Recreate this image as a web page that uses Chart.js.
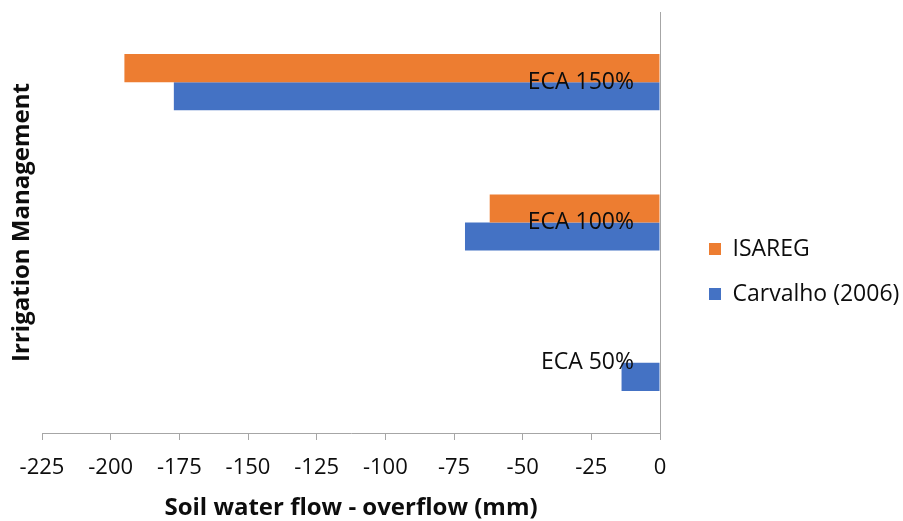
<!DOCTYPE html>
<html>
<head>
<meta charset="utf-8">
<script src="https://cdn.jsdelivr.net/npm/chart.js@4/dist/chart.umd.min.js"></script>
<style>
  html, body { margin: 0; padding: 0; background: #ffffff; }
  #wrap { width: 903px; height: 521px; }
</style>
</head>
<body>
<div id="wrap"><canvas id="chart"></canvas></div>
<script>
const categories = ["ECA 150%", "ECA 100%", "ECA 50%"];
const isaregValues = [-195, -62, 0];
const carvalhoValues = [-177, -71, -14];
const xTicks = { min: -225, max: 0, step: 25 };
const xTitle = "Soil water flow - overflow (mm)";
const yTitle = "Irrigation Management";

const FONT = "'Open Sans', 'Noto Sans', sans-serif";
const TEXT = "#0d0d0d";
const AXIS = "#a6a6a6";

// y title sits on the left while the category axis sits on the right
const yTitlePlugin = {
  id: "yTitlePlugin",
  afterDraw: function (chart) {
    let area = chart.chartArea;
    let c = chart.ctx;
    c.save();
    c.translate(22, (area.top + area.bottom) / 2);
    c.rotate(-Math.PI / 2);
    c.font = "bold 24px " + FONT;
    c.fillStyle = TEXT;
    c.textAlign = "center";
    c.textBaseline = "middle";
    c.fillText(yTitle, 0, 0);
    c.restore();
  },
};

let ctx = document.getElementById("chart").getContext("2d");
let myChart = new Chart(ctx, {
  type: "bar",
  data: {
    labels: categories,
    datasets: [
      {
        label: "ISAREG",
        data: isaregValues,
        backgroundColor: "#ed7d31",
      },
      {
        label: "Carvalho (2006)",
        data: carvalhoValues,
        backgroundColor: "#4472c4",
      },
    ],
  },
  options: {
    indexAxis: "y",
    responsive: true,
    maintainAspectRatio: false,
    animation: false,
    layout: { padding: { top: 12, right: 0, bottom: 0, left: 42 } },
    datasets: { bar: { barPercentage: 1, categoryPercentage: 0.4 } },
    plugins: {
      tooltip: { enabled: false },
      legend: {
        position: "right",
        align: "center",
        maxWidth: 216,
        // empty title only nudges the items down a little
        title: {
          display: true,
          text: " ",
          padding: 0,
          font: { size: 10, lineHeight: 1 },
        },
        labels: {
          color: TEXT,
          font: { family: FONT, size: 23 },
          boxWidth: 12,
          boxHeight: 12,
          padding: 22,
        },
      },
    },
    scales: {
      x: {
        min: xTicks.min,
        max: xTicks.max,
        ticks: {
          stepSize: xTicks.step,
          color: TEXT,
          font: { family: FONT, size: 22, lineHeight: 1 },
          padding: 17,
          maxRotation: 0,
        },
        grid: {
          drawOnChartArea: false,
          drawTicks: true,
          tickLength: 7,
          color: AXIS,
        },
        border: { display: true, color: AXIS },
        title: {
          display: true,
          text: xTitle,
          color: TEXT,
          font: { family: FONT, size: 24, weight: "bold", lineHeight: 1 },
          padding: { top: 0, bottom: 1 },
        },
      },
      y: {
        type: "category",
        position: "right",
        ticks: {
          mirror: true,
          padding: -26,
          z: 1,
          color: TEXT,
          font: { family: FONT, size: 23 },
        },
        grid: { drawOnChartArea: false, drawTicks: false },
        border: { display: true, color: AXIS },
        afterFit: function (scale) {
          scale.width = 27;
        },
      },
    },
  },
  plugins: [yTitlePlugin],
});
</script>
</body>
</html>
